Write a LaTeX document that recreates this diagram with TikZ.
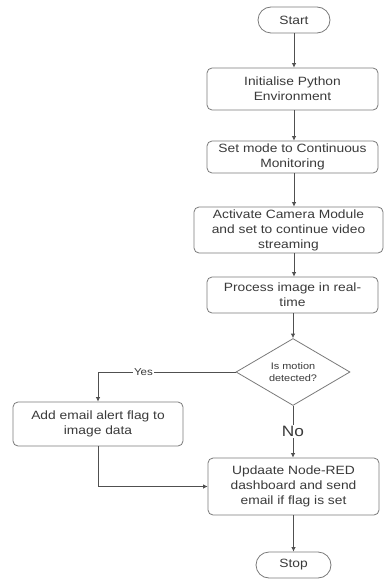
\documentclass[tikz,border=0pt]{standalone}
\usepackage{fontspec}
\setmainfont{Liberation Sans}[FakeStretch=1.15]
\usetikzlibrary{shapes.geometric,arrows.meta}
\definecolor{boxline}{HTML}{7A7A7A}
\definecolor{conline}{HTML}{505050}
\definecolor{txt}{HTML}{3A3A3A}
\tikzset{
  procbox/.style={draw=boxline, line width=0.8pt, rounded corners=5pt, rectangle,
    inner sep=0pt, align=center, text=txt, font=\fontsize{12}{15}\selectfont},
  termbox/.style={draw=boxline, line width=0.8pt, rounded corners=13pt, rectangle,
    inner sep=0pt, align=center, text=txt, font=\fontsize{12}{15}\selectfont},
  decbox/.style={draw=boxline, line width=0.8pt, diamond, inner sep=0pt, align=center,
    text=txt, font=\fontsize{9.5}{12}\selectfont},
  arr/.style={draw=conline, line width=0.8pt, -{Latex[length=4.5pt,width=4.5pt]}},
  lbl/.style={fill=white, inner sep=1.5pt, text=txt}
}
\begin{document}
\begin{tikzpicture}[x=1pt,y=-1pt]
\useasboundingbox[fill=white] (0,0) rectangle (385,580);
\node[termbox, minimum width=72pt, minimum height=26pt] (start) at (294,20) {Start};
\node[procbox, minimum width=171pt, minimum height=42pt] (init) at (292.5,89) {Initialise Python\\Environment};
\node[procbox, minimum width=171pt, minimum height=32pt] (mode) at (292.5,157) {Set mode to Continuous\\Monitoring};
\node[procbox, minimum width=189pt, minimum height=46pt] (cam) at (288.5,230) {Activate Camera Module\\and set to continue video\\streaming};
\node[procbox, minimum width=171pt, minimum height=36pt] (proc) at (292.5,295) {Process image in real-\\time};
\node[decbox, minimum width=114pt, minimum height=54pt] (dec) at (293,372) {Is motion\\detected?};
\node[procbox, minimum width=170pt, minimum height=44pt] (add) at (98,424) {Add email alert flag to\\image data};
\node[procbox, minimum width=171pt, minimum height=57pt] (upd) at (293.5,486.5) {Updaate Node-RED\\dashboard and send\\email if flag is set};
\node[termbox, minimum width=75pt, minimum height=26pt] (stop) at (293.5,565) {Stop};

\draw[arr] (start.south) -- (start.south |- init.north);
\draw[arr] (init.south -| start.south) -- (start.south |- mode.north);
\draw[arr] (mode.south -| start.south) -- (start.south |- cam.north);
\draw[arr] (cam.south -| start.south) -- (start.south |- proc.north);
\draw[arr] (proc.south -| dec.north) -- (dec.north);
\draw[arr] (dec.west) -| node[lbl, pos=0.335, font=\fontsize{10}{12}\selectfont] {Yes} (add.north);
\draw[arr] (dec.south) -- node[lbl, font=\fontsize{15}{17}\selectfont] {No} (dec.south |- upd.north);
\draw[arr] (add.south) |- (upd.west);
\draw[arr] (upd.south -| stop.north) -- (stop.north);
\end{tikzpicture}
\end{document}
